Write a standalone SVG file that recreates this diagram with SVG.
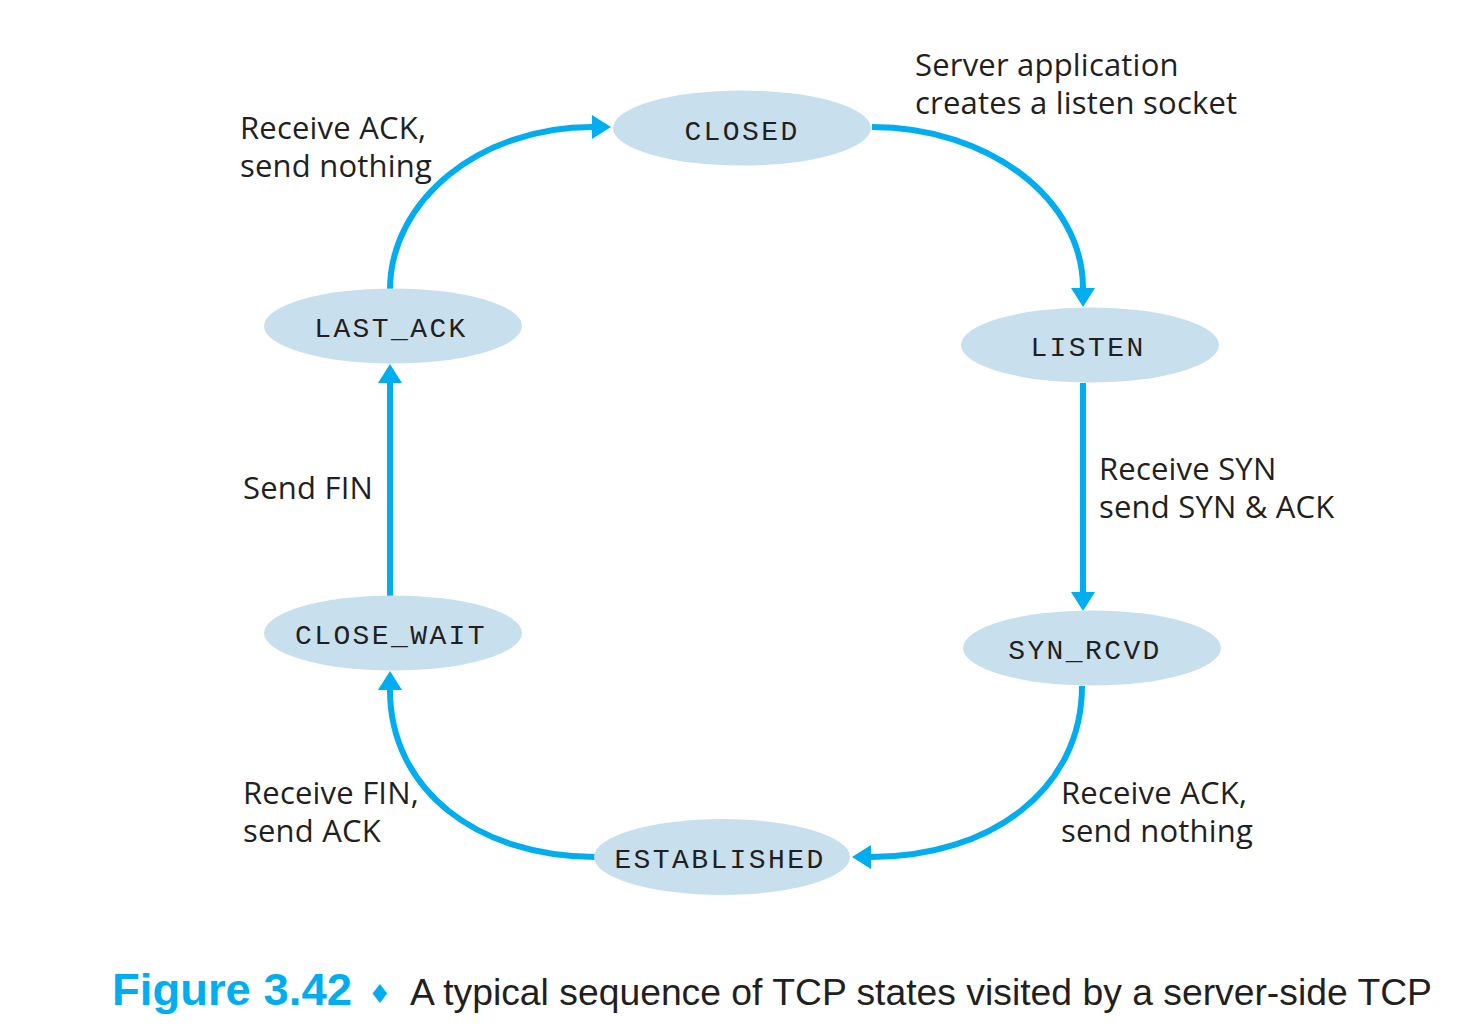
<svg xmlns="http://www.w3.org/2000/svg" width="1460" height="1035" viewBox="0 0 1460 1035">
<style>
.node{fill:#c8e0ee;}
.st{font-family:"Liberation Mono","Courier New",monospace;font-size:28px;fill:#231f20;text-anchor:middle;letter-spacing:2.4px;}
.lbl{font-family:"Open Sans","Noto Sans",sans-serif;font-size:31px;fill:#231f20;letter-spacing:0.2px;}
.edge{fill:none;stroke:#00aeef;stroke-width:6;}
</style>
<defs>
<marker id="ah" markerUnits="userSpaceOnUse" markerWidth="20" markerHeight="24" refX="0" refY="12" orient="auto" overflow="visible">
<path d="M0,0 L19,12 L0,24 Z" fill="#00aeef"/>
</marker>
</defs>
<rect width="1460" height="1035" fill="#ffffff"/>
<g id="connectors">
<path class="edge" marker-end="url(#ah)" d="M390,290 C390,200 480,127 592,127"/>
<path class="edge" marker-end="url(#ah)" d="M872,127 C990,127 1083,200 1083,288"/>
<path class="edge" marker-end="url(#ah)" d="M1083,383 L1083,592"/>
<path class="edge" marker-end="url(#ah)" d="M1082,686 C1082,790 990,857 871,857"/>
<path class="edge" marker-end="url(#ah)" d="M595,857 C478,857 390,790 390,690"/>
<path class="edge" marker-end="url(#ah)" d="M390,596 L390,383"/>
</g>
<g id="node-closed"><ellipse class="node" cx="742" cy="128" rx="129" ry="37.5"/><text class="st" x="742" y="140">CLOSED</text></g>
<g id="node-listen"><ellipse class="node" cx="1090" cy="345" rx="129" ry="37.5"/><text class="st" x="1088" y="356">LISTEN</text></g>
<g id="node-syn-rcvd"><ellipse class="node" cx="1092" cy="648" rx="129" ry="37.5"/><text class="st" x="1085" y="659">SYN_RCVD</text></g>
<g id="node-established"><ellipse class="node" cx="722" cy="857" rx="128" ry="38"/><text class="st" x="720" y="868">ESTABLISHED</text></g>
<g id="node-close-wait"><ellipse class="node" cx="393" cy="633" rx="129" ry="37.5"/><text class="st" x="391" y="644">CLOSE_WAIT</text></g>
<g id="node-last-ack"><ellipse class="node" cx="393" cy="326" rx="129" ry="37.5"/><text class="st" x="391" y="337">LAST_ACK</text></g>
<g id="labels">
<text class="lbl" x="915" y="76">Server application</text>
<text class="lbl" x="915" y="114">creates a listen socket</text>
<text class="lbl" x="240" y="139">Receive ACK,</text>
<text class="lbl" x="240" y="177">send nothing</text>
<text class="lbl" x="243" y="499">Send FIN</text>
<text class="lbl" x="1099" y="480">Receive SYN</text>
<text class="lbl" x="1099" y="518">send SYN &amp; ACK</text>
<text class="lbl" x="243" y="804">Receive FIN,</text>
<text class="lbl" x="243" y="842">send ACK</text>
<text class="lbl" x="1061" y="804">Receive ACK,</text>
<text class="lbl" x="1061" y="842">send nothing</text>
</g>
<g id="caption">
<text x="112" y="1005" font-family="'Liberation Sans',Arial,sans-serif" font-weight="bold" font-size="44" fill="#00aeef" textLength="240" lengthAdjust="spacingAndGlyphs">Figure 3.42</text>
<text x="368" y="1003" font-family="'DejaVu Sans',sans-serif" font-size="26" fill="#00aeef">♦</text>
<text x="410" y="1005" font-family="'Liberation Sans',Arial,sans-serif" font-size="37" fill="#231f20" textLength="1022" lengthAdjust="spacingAndGlyphs">A typical sequence of TCP states visited by a server-side TCP</text>
</g>
</svg>
